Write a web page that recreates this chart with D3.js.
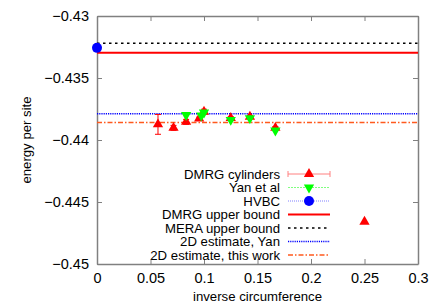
<!DOCTYPE html>
<html>
<head>
<meta charset="utf-8">
<script src="https://cdn.jsdelivr.net/npm/d3@7"></script>
<style>
  body { margin: 0; background: #fff; }
  text { font-family: "Liberation Sans", Arial, sans-serif; }
</style>
</head>
<body>
<script>
const WIDTH = 438
const HEIGHT = 307
const margin = { top: 16, bottom: 43, left: 97, right: 20 }

// DMRG cylinders: inverse circumference, energy, error
const dmrgX = [0.057, 0.0715, 0.0833, 0.0955, 0.1, 0.125, 0.1429, 0.1667, 0.25]
const dmrgY = [-0.43874, -0.43902, -0.43854, -0.43826, -0.43772, -0.43822, -0.43812, -0.43902, -0.44659]
const dmrgErr = [0.0008, 0.0002, 0.0002, 0.0001, 0.0002, 0.0001, 0.0001, 0.0001, 0]

// Yan et al
const yanX = [0.0833, 0.0975, 0.1, 0.125, 0.1429, 0.1667]
const yanY = [-0.43798, -0.43802, -0.43778, -0.43838, -0.43824, -0.43924]

// HVBC
const hvbcX = [0]
const hvbcY = [-0.43257]

// horizontal reference lines
const refNames = ['DMRG upper bound', 'MERA upper bound', '2D estimate, Yan', '2D estimate, this work']
const refValues = [-0.43297, -0.43219, -0.43789, -0.43859]

const xTicks = [0, 0.05, 0.1, 0.15, 0.2, 0.25, 0.3]
const yTicks = [-0.43, -0.435, -0.44, -0.445, -0.45]

const refStyles = [
    { color: '#ff0000', dash: null, width: 2 },
    { color: '#000000', dash: '2.5,3.5', width: 1.5 },
    { color: '#0000ff', dash: '1.2,1', width: 1.5 },
    { color: '#ff5a1e', dash: '5,2,1.5,2', width: 1.5 }
]

svg = d3.select('body').append('svg')
    .attr('width', WIDTH)
    .attr('height', HEIGHT);

x_scale = d3.scaleLinear()
    .domain([0, 0.3])
    .range([margin.left, WIDTH - margin.right]);

y_scale = d3.scaleLinear()
    .domain([-0.45, -0.43])
    .range([HEIGHT - margin.bottom, margin.top]);

const tri = d3.symbol().type(d3.symbolTriangle).size(46)
const grey = '#808080'

// axes with inward ticks, mirrored on top and right
svg.append('g')
    .attr('transform', `translate(0,${HEIGHT - margin.bottom})`)
    .call(d3.axisBottom(x_scale).tickValues(xTicks).tickSizeInner(-5).tickSizeOuter(0).tickPadding(9).tickFormat(d3.format('')))
    .call(g => g.select('.domain').attr('stroke', grey).attr('stroke-width', 1.5))
    .call(g => g.selectAll('.tick line').attr('stroke', grey))
    .call(g => g.selectAll('.tick text').attr('font-size', 14.5).attr('fill', '#000'));

svg.append('g')
    .attr('transform', `translate(${margin.left},0)`)
    .call(d3.axisLeft(y_scale).tickValues(yTicks).tickSizeInner(-5).tickSizeOuter(0).tickPadding(8).tickFormat(d3.format('')))
    .call(g => g.select('.domain').attr('stroke', grey).attr('stroke-width', 1.5))
    .call(g => g.selectAll('.tick line').attr('stroke', grey))
    .call(g => g.selectAll('.tick text').attr('font-size', 14.5).attr('fill', '#000'));

svg.append('g')
    .attr('transform', `translate(0,${margin.top})`)
    .call(d3.axisTop(x_scale).tickValues(xTicks).tickSizeInner(-5).tickSizeOuter(0).tickFormat(''))
    .call(g => g.select('.domain').attr('stroke', grey).attr('stroke-width', 1.5))
    .call(g => g.selectAll('.tick line').attr('stroke', grey));

svg.append('g')
    .attr('transform', `translate(${WIDTH - margin.right},0)`)
    .call(d3.axisRight(y_scale).tickValues(yTicks).tickSizeInner(-5).tickSizeOuter(0).tickFormat(''))
    .call(g => g.select('.domain').attr('stroke', grey).attr('stroke-width', 1.5))
    .call(g => g.selectAll('.tick line').attr('stroke', grey));

// axis titles
svg.append('text')
    .attr('x', (margin.left + WIDTH - margin.right) / 2)
    .attr('y', 301)
    .attr('text-anchor', 'middle')
    .attr('font-size', 13.2)
    .text('inverse circumference');

svg.append('text')
    .attr('transform', `translate(31,${(margin.top + HEIGHT - margin.bottom) / 2}) rotate(-90)`)
    .attr('text-anchor', 'middle')
    .attr('font-size', 13.2)
    .text('energy per site');

// reference lines
refValues.forEach(function(v, i) {
    let s = refStyles[i]
    svg.append('line')
        .attr('x1', x_scale(0)).attr('x2', x_scale(0.3))
        .attr('y1', y_scale(v)).attr('y2', y_scale(v))
        .attr('stroke', s.color)
        .attr('stroke-width', s.width)
        .attr('stroke-dasharray', s.dash);
});

// DMRG error bars
const dmrg = dmrgX.map((x, i) => ({ x: x, y: dmrgY[i], e: dmrgErr[i] }))
svg.append('g')
    .attr('stroke', '#ff0000')
    .attr('stroke-width', 1)
    .selectAll('g')
    .data(dmrg.filter(d => d.e > 0))
    .join('g')
    .each(function(d) {
        let g = d3.select(this)
        let cx = x_scale(d.x)
        g.append('line').attr('x1', cx).attr('x2', cx)
            .attr('y1', y_scale(d.y - d.e)).attr('y2', y_scale(d.y + d.e));
        [d.y - d.e, d.y + d.e].forEach(v => g.append('line')
            .attr('x1', cx - 3).attr('x2', cx + 3)
            .attr('y1', y_scale(v)).attr('y2', y_scale(v)));
    });

// DMRG triangles
svg.append('g')
    .attr('fill', '#ff0000')
    .selectAll('path')
    .data(dmrg)
    .join('path')
        .attr('d', tri)
        .attr('transform', d => `translate(${x_scale(d.x)},${y_scale(d.y)})`);

// Yan et al
svg.append('g')
    .attr('fill', '#00ff00')
    .selectAll('path')
    .data(yanX.map((x, i) => [x, yanY[i]]))
    .join('path')
        .attr('d', tri)
        .attr('transform', d => `translate(${x_scale(d[0])},${y_scale(d[1])}) rotate(180)`);

// HVBC
svg.append('g')
    .attr('fill', '#0000ff')
    .selectAll('circle')
    .data(hvbcX.map((x, i) => [x, hvbcY[i]]))
    .join('circle')
        .attr('cx', d => x_scale(d[0]))
        .attr('cy', d => y_scale(d[1]))
        .attr('r', 5);

// legend
const legendNames = ['DMRG cylinders', 'Yan et al', 'HVBC'].concat(refNames)
const legend = svg.append('g')
    .selectAll('g')
    .data(legendNames)
    .join('g')
        .attr('transform', (d, i) => `translate(0,${174 + i * 13.5})`);

legend.append('text')
    .attr('x', 280)
    .attr('y', 4.5)
    .attr('text-anchor', 'end')
    .attr('font-size', 13.2)
    .text(d => d);

const lx1 = 288, lx2 = 330, lmid = 309
legend.each(function(d, i) {
    let g = d3.select(this)
    if (i == 0) {
        g.append('line').attr('x1', lx1).attr('x2', lx2).attr('stroke', '#ff8080').attr('stroke-width', 1);
        [lx1, lx2].forEach(x => g.append('line').attr('x1', x).attr('x2', x).attr('y1', -3).attr('y2', 3).attr('stroke', '#ff8080'));
        g.append('path').attr('d', tri).attr('fill', '#ff0000').attr('transform', `translate(${lmid},0)`);
    } else if (i == 1) {
        g.append('line').attr('x1', lx1).attr('x2', lx2).attr('stroke', '#80ff80').attr('stroke-dasharray', '2,1');
        g.append('path').attr('d', tri).attr('fill', '#00ff00').attr('transform', `translate(${lmid},0) rotate(180)`);
    } else if (i == 2) {
        g.append('line').attr('x1', lx1).attr('x2', lx2).attr('stroke', '#8080ff').attr('stroke-dasharray', '1,1');
        g.append('circle').attr('cx', lmid).attr('r', 5).attr('fill', '#0000ff');
    } else {
        let s = refStyles[i - 3]
        g.append('line').attr('x1', lx1).attr('x2', lx2)
            .attr('stroke', s.color).attr('stroke-width', s.width).attr('stroke-dasharray', s.dash);
    }
});
</script>
</body>
</html>
